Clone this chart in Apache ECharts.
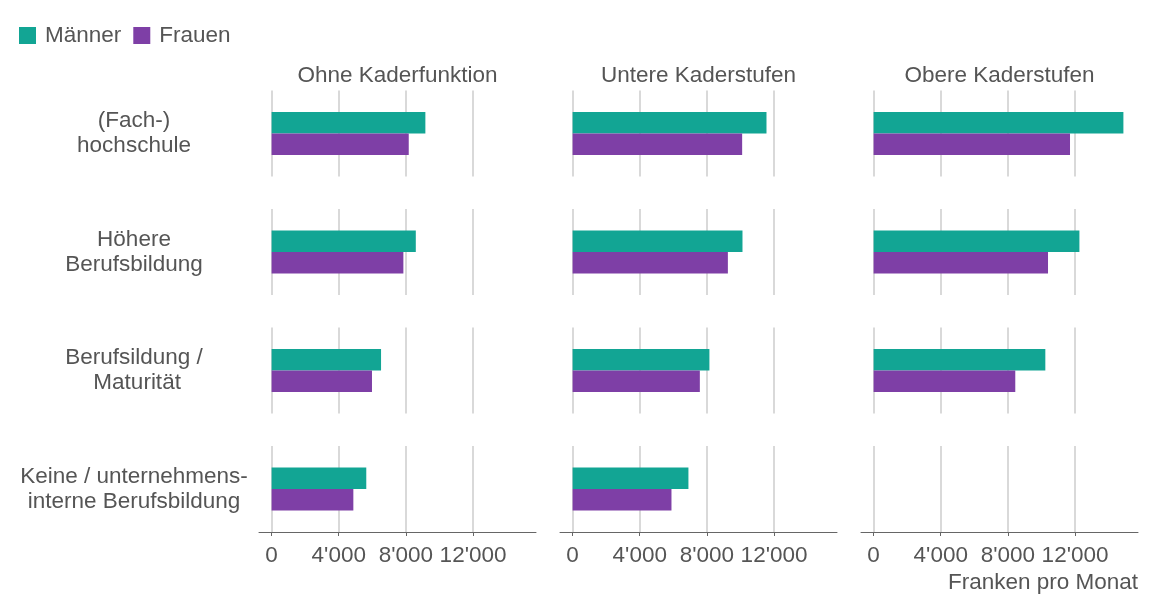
<!DOCTYPE html>
<html>
<head>
<meta charset="utf-8">
<script src="https://cdn.jsdelivr.net/npm/echarts@6/dist/echarts.min.js"></script>
<style>
  html, body { margin: 0; padding: 0; background: #fff; }
  #chart { width: 1152px; height: 604px; }
</style>
</head>
<body>
<div id="chart"></div>
<script>
// Bildungsstufen (rows) und Kaderstufen (columns)
const rowLabels = [
  '(Fach-)\nhochschule',
  'Höhere\nBerufsbildung',
  'Berufsildung /\n Maturität',
  'Keine / unternehmens-\ninterne Berufsbildung'
]
const columnTitles = ['Ohne Kaderfunktion', 'Untere Kaderstufen', 'Obere Kaderstufen']
const seriesNames = ['Männer', 'Frauen']
const tickValues = [0, 4000, 8000, 12000]

// Franken pro Monat, one array per column, ordered like rowLabels (null = keine Daten)
const maennerOhne = [9160, 8590, 6520, 5640]
const frauenOhne = [8170, 7850, 5980, 4870]
const maennerUntere = [11550, 10120, 8150, 6900]
const frauenUntere = [10100, 9250, 7580, 5890]
const maennerObere = [14880, 12260, 10230, null]
const frauenObere = [11700, 10390, 8440, null]

const maenner = [maennerOhne, maennerUntere, maennerObere]
const frauen = [frauenOhne, frauenUntere, frauenObere]

const colors = ['#12A594', '#7E3FA6']
const textColor = '#555'
const fontFamily = '"Liberation Sans", Arial, sans-serif'
const fontSize = 22.5

const gridLefts = [259, 560, 861]
const gridWidth = 277
const gridTops = [90.5, 209, 327.5, 446]
const gridHeight = 86

const fmt = (v) => String(v).replace(/\B(?=(\d{3})+(?!\d))/g, "'")

const grids = []
const xAxes = []
const yAxes = []
const series = []

for (let r = 0; r < rowLabels.length; r++) {
  for (let c = 0; c < columnTitles.length; c++) {
    const idx = grids.length
    const isBottom = r === rowLabels.length - 1
    grids.push({
      left: gridLefts[c],
      top: gridTops[r],
      width: gridWidth,
      height: gridHeight
    })
    xAxes.push({
      type: 'value',
      gridIndex: idx,
      min: -750,
      max: 15750,
      axisLine: { show: isBottom, lineStyle: { color: '#666', width: 1 } },
      axisTick: {
        show: isBottom,
        customValues: tickValues,
        length: 4,
        lineStyle: { color: '#666' }
      },
      axisLabel: {
        show: isBottom,
        customValues: tickValues,
        formatter: fmt,
        color: textColor,
        fontSize: fontSize,
        fontFamily: fontFamily,
        margin: 12
      },
      splitLine: { show: true, lineStyle: { color: '#cccccc', width: 1.5 } }
    })
    yAxes.push({
      type: 'category',
      gridIndex: idx,
      data: [rowLabels[r]],
      axisLine: { show: false },
      axisTick: { show: false },
      axisLabel: {
        show: c === 0,
        align: 'center',
        margin: 125,
        color: textColor,
        fontSize: fontSize,
        fontFamily: fontFamily,
        lineHeight: 25
      }
    })
    const m = maenner[c][r]
    const f = frauen[c][r]
    series.push({
      name: seriesNames[0],
      type: 'bar',
      xAxisIndex: idx,
      yAxisIndex: idx,
      data: [m],
      barGap: '0%',
      barCategoryGap: '50%',
      itemStyle: { color: colors[0] },
      silent: true
    })
    series.push({
      name: seriesNames[1],
      type: 'bar',
      xAxisIndex: idx,
      yAxisIndex: idx,
      data: [f],
      barGap: '0%',
      barCategoryGap: '50%',
      itemStyle: { color: colors[1] },
      silent: true
    })
  }
}

const titles = columnTitles.map((t, c) => ({
  text: t,
  left: gridLefts[c] + gridWidth / 2,
  top: 64,
  textAlign: 'center',
  padding: 0,
  textStyle: { color: textColor, fontSize: fontSize, fontWeight: 'normal', fontFamily: fontFamily }
}))
titles.push({
  text: 'Franken pro Monat',
  right: 14,
  top: 571,
  padding: 0,
  textStyle: { color: textColor, fontSize: fontSize, fontWeight: 'normal', fontFamily: fontFamily }
})

const chart = echarts.init(document.getElementById('chart'), null, { renderer: 'canvas' })
chart.setOption({
  animation: false,
  title: titles,
  legend: {
    data: seriesNames,
    left: 19,
    top: 24,
    padding: 0,
    itemWidth: 17,
    itemHeight: 17,
    itemGap: 12,
    icon: 'rect',
    textStyle: { color: textColor, fontSize: fontSize, fontFamily: fontFamily, padding: [0, 0, 0, 4] }
  },
  grid: grids,
  xAxis: xAxes,
  yAxis: yAxes,
  series: series
})
</script>
</body>
</html>
